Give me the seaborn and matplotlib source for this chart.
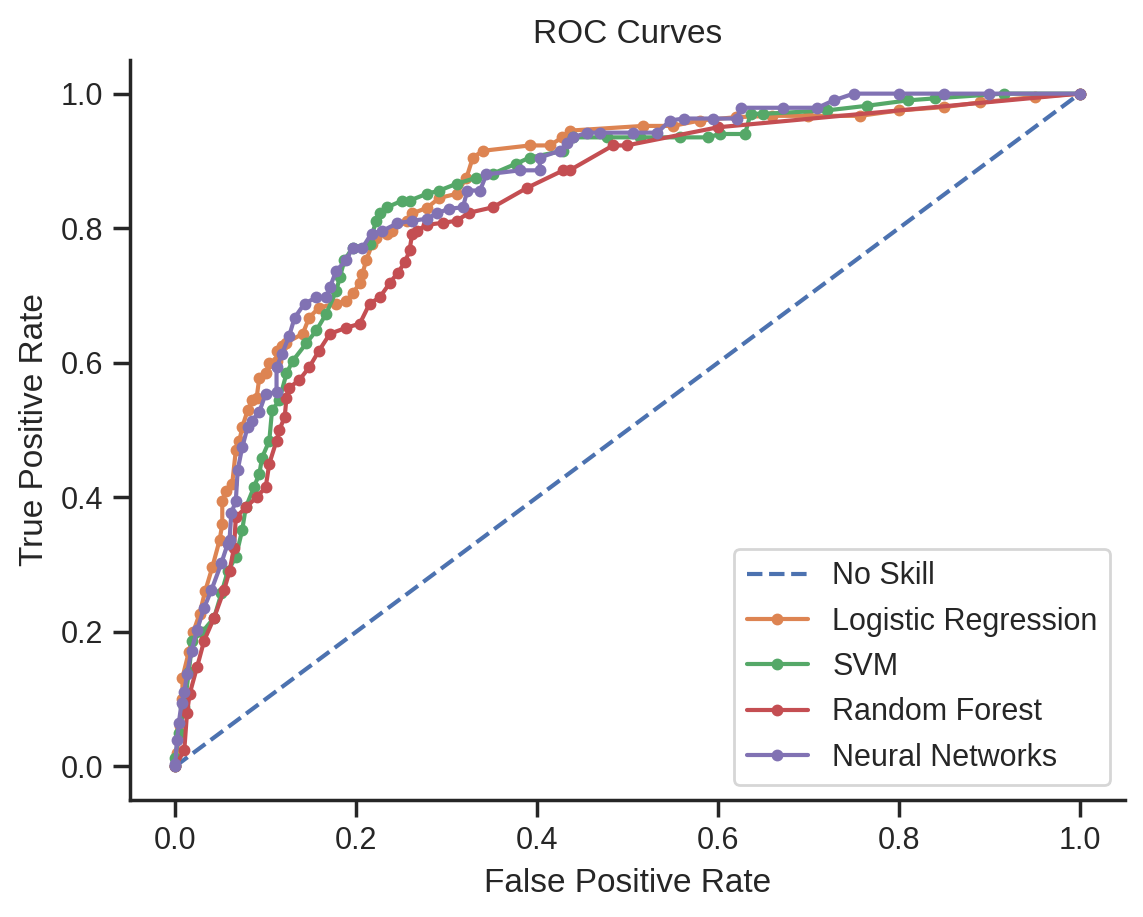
import matplotlib
matplotlib.use("Agg")
import matplotlib.pyplot as plt
import seaborn as sns

ns_fpr = [0.0, 1.0]
ns_tpr = [0.0, 1.0]

lr_fpr = [0.0, 0.002, 0.005, 0.008, 0.008, 0.015, 0.02, 0.027, 0.033, 0.041, 0.049, 0.052, 0.052, 0.056,
          0.063, 0.067, 0.071, 0.074, 0.08, 0.085, 0.09, 0.093, 0.1, 0.104, 0.112, 0.112, 0.118, 0.123,
          0.141, 0.148, 0.159, 0.178, 0.189, 0.196, 0.204, 0.207, 0.211, 0.218, 0.222, 0.234, 0.24,
          0.256, 0.262, 0.278, 0.292, 0.311, 0.322, 0.329, 0.34, 0.392, 0.414, 0.428, 0.436, 0.517,
          0.55, 0.58, 0.62, 0.66, 0.7, 0.757, 0.8, 0.85, 0.89, 0.95, 1.0]
lr_tpr = [0.0, 0.02, 0.06, 0.10, 0.132, 0.17, 0.2, 0.227, 0.26, 0.296, 0.336, 0.36, 0.395, 0.41,
          0.42, 0.47, 0.484, 0.504, 0.529, 0.544, 0.548, 0.578, 0.584, 0.599, 0.603, 0.618, 0.625, 0.63,
          0.643, 0.667, 0.682, 0.688, 0.692, 0.703, 0.718, 0.732, 0.752, 0.777, 0.786, 0.792, 0.796,
          0.811, 0.822, 0.83, 0.845, 0.851, 0.875, 0.905, 0.915, 0.923, 0.923, 0.935, 0.945, 0.952,
          0.952, 0.96, 0.965, 0.967, 0.967, 0.967, 0.975, 0.98, 0.987, 0.995, 1.0]

svm_fpr = [0.0, 0.0, 0.004, 0.01, 0.015, 0.019, 0.03, 0.043, 0.051, 0.058, 0.067, 0.074, 0.078, 0.087,
           0.093, 0.096, 0.104, 0.107, 0.115, 0.123, 0.13, 0.145, 0.156, 0.167, 0.178, 0.182, 0.187,
           0.196, 0.215, 0.222, 0.226, 0.234, 0.251, 0.259, 0.278, 0.292, 0.311, 0.333, 0.351, 0.377,
           0.392, 0.429, 0.44, 0.477, 0.514, 0.558, 0.589, 0.602, 0.63, 0.636, 0.65, 0.72, 0.765,
           0.81, 0.84, 0.916, 1.0]
svm_tpr = [0.0, 0.013, 0.049, 0.088, 0.14, 0.187, 0.2, 0.221, 0.257, 0.29, 0.311, 0.351, 0.385, 0.415,
           0.435, 0.459, 0.484, 0.529, 0.544, 0.584, 0.603, 0.629, 0.648, 0.673, 0.707, 0.727, 0.752,
           0.771, 0.777, 0.811, 0.822, 0.831, 0.841, 0.841, 0.851, 0.856, 0.866, 0.875, 0.881, 0.896,
           0.905, 0.915, 0.935, 0.935, 0.935, 0.935, 0.935, 0.94, 0.94, 0.97, 0.97, 0.975, 0.982,
           0.99, 0.993, 1.0, 1.0]

rf_fpr = [0.0, 0.01, 0.013, 0.016, 0.024, 0.032, 0.043, 0.054, 0.06, 0.065, 0.067, 0.078, 0.09, 0.1,
          0.104, 0.112, 0.115, 0.121, 0.123, 0.126, 0.137, 0.148, 0.159, 0.171, 0.189, 0.204, 0.215,
          0.226, 0.237, 0.246, 0.254, 0.259, 0.262, 0.267, 0.278, 0.296, 0.311, 0.325, 0.351, 0.389,
          0.429, 0.436, 0.484, 0.499, 0.6, 1.0]
rf_tpr = [0.0, 0.024, 0.079, 0.108, 0.147, 0.187, 0.221, 0.262, 0.29, 0.325, 0.37, 0.385, 0.4, 0.415,
          0.45, 0.484, 0.5, 0.519, 0.548, 0.563, 0.574, 0.593, 0.618, 0.643, 0.652, 0.658, 0.688,
          0.697, 0.718, 0.734, 0.749, 0.767, 0.792, 0.796, 0.805, 0.808, 0.811, 0.823, 0.831, 0.86,
          0.886, 0.886, 0.923, 0.923, 0.95, 1.0]

nn_fpr = [0.0, 0.0, 0.002, 0.004, 0.007, 0.01, 0.013, 0.018, 0.024, 0.032, 0.04, 0.051, 0.058, 0.06,
          0.062, 0.067, 0.069, 0.074, 0.08, 0.085, 0.093, 0.1, 0.112, 0.112, 0.118, 0.126, 0.132, 0.143,
          0.156, 0.167, 0.171, 0.178, 0.189, 0.196, 0.207, 0.217, 0.229, 0.245, 0.262, 0.278, 0.289,
          0.303, 0.318, 0.323, 0.337, 0.344, 0.381, 0.403, 0.403, 0.425, 0.433, 0.44, 0.455, 0.47,
          0.506, 0.533, 0.547, 0.562, 0.595, 0.621, 0.625, 0.672, 0.71, 0.728, 0.75, 0.8, 0.85, 0.9, 1.0]
nn_tpr = [0.0, 0.004, 0.039, 0.065, 0.094, 0.11, 0.138, 0.172, 0.202, 0.236, 0.262, 0.302, 0.331, 0.336,
          0.376, 0.395, 0.44, 0.474, 0.504, 0.514, 0.527, 0.554, 0.556, 0.593, 0.613, 0.64, 0.667, 0.688,
          0.697, 0.697, 0.712, 0.737, 0.752, 0.771, 0.771, 0.792, 0.796, 0.807, 0.811, 0.814, 0.822,
          0.829, 0.831, 0.856, 0.856, 0.88, 0.886, 0.886, 0.905, 0.915, 0.926, 0.935, 0.942, 0.942,
          0.942, 0.942, 0.96, 0.963, 0.963, 0.963, 0.979, 0.979, 0.979, 0.99, 1.0, 1.0, 1.0, 1.0, 1.0]

model_names = ["Logistic Regression", "SVM", "Random Forest", "Neural Networks"]

sns.set_theme(style="ticks")
plt.rcParams["font.family"] = ["Liberation Sans", "DejaVu Sans"]
pal = sns.color_palette("deep")

fig = plt.figure(figsize=(1143 / 200, 917 / 200), dpi=200)
ax = fig.add_axes([130 / 1143, (917 - 800) / 917, (1125 - 130) / 1143, (800 - 60) / 917])

sns.lineplot(x=ns_fpr, y=ns_tpr, ax=ax, color=pal[0], linestyle="--", label="No Skill",
             sort=False, estimator=None)
series = [(lr_fpr, lr_tpr), (svm_fpr, svm_tpr), (rf_fpr, rf_tpr), (nn_fpr, nn_tpr)]
for i, ((fx, fy), name) in enumerate(zip(series, model_names)):
    c = pal[i + 1]
    sns.lineplot(x=fx, y=fy, ax=ax, color=c, marker=".", markeredgecolor=c, markeredgewidth=1.0,
                 markersize=6.5, label=name, sort=False, estimator=None)

ax.set_xlim(-0.05, 1.05)
ax.set_ylim(-0.05, 1.05)
ax.set_xlabel("False Positive Rate")
ax.set_ylabel("True Positive Rate")
ax.set_title("ROC Curves")
ax.legend(loc="lower right")
sns.despine(ax=ax)

fig.savefig("out.png", dpi=200)
